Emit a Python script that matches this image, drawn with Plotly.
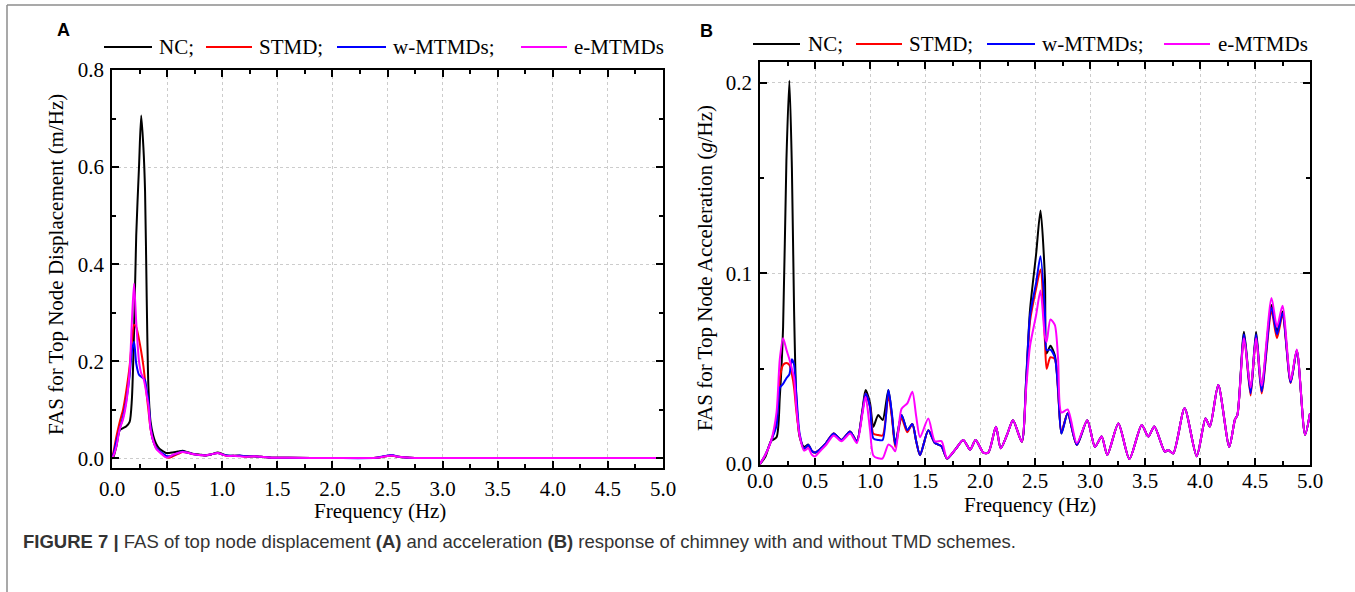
import plotly.graph_objects as go

W, H = 1355, 592

# ---------------- data: panel A (displacement FAS, m/Hz) ----------------
freq_a = [0.0, 0.01, 0.04, 0.07, 0.1, 0.13, 0.16, 0.18, 0.2, 0.22, 0.245, 0.265, 0.285, 0.3, 0.315,
          0.33, 0.35, 0.375, 0.4, 0.43, 0.46, 0.49, 0.52, 0.55, 0.6, 0.64, 0.68, 0.73, 0.79, 0.85,
          0.9, 0.96, 1.0, 1.04, 1.1, 1.16, 1.22, 1.29, 1.35, 1.46, 1.6, 2.0, 2.4, 2.48, 2.54, 2.6,
          2.7, 3.0, 4.0, 5.0]
nc_a = [0.0, 0.001, 0.025, 0.058, 0.062, 0.066, 0.075, 0.12, 0.26, 0.46, 0.6, 0.706, 0.64, 0.55, 0.33,
        0.15, 0.075, 0.046, 0.03, 0.02, 0.015, 0.011, 0.011, 0.012, 0.014, 0.0157, 0.013, 0.0093, 0.008, 0.006,
        0.008, 0.012, 0.009, 0.006, 0.005, 0.005, 0.004, 0.004, 0.003, 0.001, 0.001, 0.0005, 0.001, 0.004, 0.006, 0.003,
        0.001, 0.0005, 0.0005, 0.0005]
stmd_a = [0.005, 0.01, 0.045, 0.075, 0.1, 0.14, 0.19, 0.24, 0.275, 0.27, 0.245, 0.22, 0.19, 0.16, 0.13,
          0.1, 0.06, 0.035, 0.022, 0.014, 0.008, 0.003, 0.001, 0.004, 0.009, 0.013, 0.012, 0.009, 0.007, 0.006,
          0.008, 0.011, 0.008, 0.005, 0.005, 0.005, 0.003, 0.004, 0.003, 0.001, 0.001, 0.0005, 0.001, 0.004, 0.006, 0.003,
          0.001, 0.0005, 0.0005, 0.0005]
wmtmd_a = [0.003, 0.006, 0.035, 0.06, 0.085, 0.12, 0.17, 0.22, 0.24, 0.195, 0.172, 0.168, 0.165, 0.16, 0.14,
           0.12, 0.065, 0.035, 0.022, 0.015, 0.01, 0.005, 0.004, 0.006, 0.011, 0.014, 0.012, 0.009, 0.007, 0.006,
           0.008, 0.011, 0.008, 0.006, 0.005, 0.006, 0.004, 0.004, 0.003, 0.001, 0.001, 0.0005, 0.001, 0.005, 0.007, 0.003,
           0.001, 0.0005, 0.0005, 0.0005]
emtmd_a = [0.002, 0.004, 0.025, 0.06, 0.08, 0.115, 0.18, 0.28, 0.36, 0.28, 0.2, 0.175, 0.165, 0.15, 0.13,
           0.11, 0.06, 0.035, 0.02, 0.013, 0.007, 0.002, 0.003, 0.007, 0.011, 0.013, 0.012, 0.009, 0.007, 0.006,
           0.008, 0.011, 0.008, 0.005, 0.005, 0.004, 0.003, 0.004, 0.003, 0.001, 0.001, 0.0005, 0.001, 0.004, 0.006, 0.003,
           0.001, 0.0005, 0.0005, 0.0005]

# ---------------- data: panel B (acceleration FAS, g/Hz) ----------------
freq_b = [0.0, 0.05, 0.1, 0.15, 0.18, 0.21, 0.24, 0.267, 0.29, 0.31, 0.33, 0.36, 0.40, 0.44, 0.47,
          0.5, 0.55, 0.6, 0.67, 0.74, 0.82, 0.88, 0.93, 0.96, 1.0, 1.03, 1.075, 1.115, 1.167, 1.2,
          1.23, 1.287, 1.339, 1.385, 1.42, 1.455, 1.53, 1.59, 1.65, 1.70, 1.78, 1.848, 1.91, 1.96, 2.03,
          2.076, 2.145, 2.188, 2.25, 2.30, 2.38, 2.42, 2.455, 2.51, 2.55, 2.59, 2.606, 2.64, 2.68, 2.71,
          2.74, 2.797, 2.88, 2.975, 3.045, 3.106, 3.157, 3.258, 3.358, 3.47, 3.53, 3.585, 3.68, 3.71, 3.757,
          3.86, 3.97, 4.05, 4.09, 4.166, 4.266, 4.318, 4.34, 4.40, 4.46, 4.51, 4.56, 4.65, 4.70, 4.75,
          4.824, 4.88, 4.955, 5.0]
nc_b = [0.0, 0.004, 0.012, 0.014, 0.035, 0.072, 0.159, 0.201, 0.155, 0.08, 0.035, 0.0143, 0.009, 0.0102, 0.007,
        0.006, 0.008, 0.011, 0.016, 0.0126, 0.017, 0.0119, 0.028, 0.0388, 0.032, 0.0195, 0.0257, 0.0231, 0.0388, 0.025,
        0.0108, 0.0257, 0.0177, 0.021, 0.012, 0.0046, 0.0177, 0.011, 0.0093, 0.0029, 0.008, 0.0126, 0.0075, 0.0126, 0.006,
        0.006, 0.0195, 0.0083, 0.016, 0.023, 0.0117, 0.045, 0.081, 0.11, 0.133, 0.098, 0.058, 0.062, 0.057, 0.04,
        0.016, 0.0266, 0.010, 0.023, 0.009, 0.0144, 0.0048, 0.0213, 0.0026, 0.0205, 0.0144, 0.0197, 0.0065, 0.0073, 0.0056,
        0.0292, 0.0041, 0.0239, 0.0197, 0.0414, 0.009, 0.0234, 0.0257, 0.0694, 0.038, 0.0694, 0.0397, 0.0834, 0.0694, 0.08,
        0.0432, 0.0595, 0.0153, 0.0266]
stmd_b = [0.0, 0.005, 0.012, 0.022, 0.045, 0.052, 0.053, 0.052, 0.047, 0.04, 0.028, 0.015, 0.008, 0.0095, 0.007,
          0.006, 0.008, 0.011, 0.016, 0.0126, 0.017, 0.0119, 0.027, 0.037, 0.03, 0.016, 0.0152, 0.015, 0.036, 0.024,
          0.009, 0.024, 0.0167, 0.021, 0.012, 0.0046, 0.0177, 0.011, 0.0093, 0.0029, 0.008, 0.0126, 0.0075, 0.0126, 0.006,
          0.006, 0.0195, 0.0083, 0.016, 0.023, 0.0117, 0.043, 0.075, 0.092, 0.102, 0.065, 0.05, 0.056, 0.055, 0.038,
          0.017, 0.0266, 0.010, 0.023, 0.009, 0.0144, 0.0048, 0.0213, 0.0026, 0.0205, 0.0144, 0.0197, 0.0065, 0.0073, 0.0056,
          0.0292, 0.0041, 0.0239, 0.0197, 0.0414, 0.009, 0.0234, 0.0257, 0.067, 0.036, 0.067, 0.037, 0.080, 0.066, 0.078,
          0.0425, 0.0595, 0.0153, 0.0266]
wmtmd_b = [0.0, 0.005, 0.012, 0.02, 0.04, 0.042, 0.045, 0.047, 0.055, 0.052, 0.037, 0.016, 0.008, 0.01, 0.007,
           0.006, 0.008, 0.011, 0.016, 0.0126, 0.017, 0.0119, 0.027, 0.037, 0.03, 0.0135, 0.0126, 0.0126, 0.0388, 0.026,
           0.01, 0.0257, 0.0177, 0.021, 0.012, 0.0046, 0.0177, 0.011, 0.0093, 0.0029, 0.008, 0.0126, 0.0075, 0.0126, 0.006,
           0.006, 0.0195, 0.0083, 0.016, 0.023, 0.0117, 0.044, 0.078, 0.095, 0.109, 0.08, 0.0597, 0.06, 0.056, 0.039,
           0.016, 0.0266, 0.010, 0.023, 0.009, 0.0144, 0.0048, 0.0213, 0.0026, 0.0205, 0.0144, 0.0197, 0.0065, 0.0073, 0.0056,
           0.0292, 0.0041, 0.0239, 0.0197, 0.0414, 0.009, 0.0234, 0.0257, 0.068, 0.037, 0.068, 0.038, 0.082, 0.068, 0.079,
           0.0428, 0.0595, 0.0153, 0.0266]
emtmd_b = [0.0, 0.005, 0.012, 0.027, 0.055, 0.066, 0.06, 0.055, 0.05, 0.045, 0.03, 0.015, 0.007, 0.0083, 0.005,
           0.004, 0.007, 0.01, 0.015, 0.012, 0.016, 0.011, 0.026, 0.0353, 0.018, 0.0045, 0.003, 0.003, 0.0102, 0.009,
           0.0067, 0.029, 0.0318, 0.0379, 0.025, 0.014, 0.0239, 0.0119, 0.012, 0.003, 0.008, 0.0126, 0.0075, 0.0126, 0.006,
           0.006, 0.0195, 0.0083, 0.016, 0.023, 0.0117, 0.04, 0.062, 0.078, 0.091, 0.067, 0.064, 0.0758, 0.073, 0.055,
           0.027, 0.0286, 0.011, 0.023, 0.009, 0.0144, 0.0048, 0.0213, 0.0026, 0.0205, 0.0144, 0.0197, 0.0065, 0.0073, 0.0056,
           0.0292, 0.0041, 0.0239, 0.0197, 0.0414, 0.009, 0.0234, 0.0257, 0.066, 0.04, 0.066, 0.041, 0.087, 0.072, 0.083,
           0.044, 0.06, 0.0153, 0.0266]

series_names = ["NC;", "STMD;", "w-MTMDs;", "e-MTMDs"]
series_colors = ["#000000", "#ff0000", "#0000ff", "#ff00ff"]

x_tick_vals = [0.0, 0.5, 1.0, 1.5, 2.0, 2.5, 3.0, 3.5, 4.0, 4.5, 5.0]
x_tick_text = ["0.0", "0.5", "1.0", "1.5", "2.0", "2.5", "3.0", "3.5", "4.0", "4.5", "5.0"]
ya_tick_vals = [0.0, 0.2, 0.4, 0.6, 0.8]
ya_tick_text = ["0.0", "0.2", "0.4", "0.6", "0.8"]
yb_tick_vals = [0.0, 0.1, 0.2]
yb_tick_text = ["0.0", "0.1", "0.2"]

caption = ("<b>FIGURE 7 |</b> FAS of top node displacement <b>(A)</b> and acceleration <b>(B)</b> "
           "response of chimney with and without TMD schemes.")


def px(x):
    return x / W


def py(y):
    return 1 - y / H


SERIF = "Liberation Serif"
SANS = "Liberation Sans"

fig = go.Figure()

for vals, name, col in zip([nc_a, stmd_a, wmtmd_a, emtmd_a], series_names, series_colors):
    fig.add_trace(go.Scatter(x=freq_a, y=vals, name=name, mode="lines",
                             line=dict(color=col, width=2, shape="spline", smoothing=0.7),
                             xaxis="x", yaxis="y", showlegend=False))
for vals, name, col in zip([nc_b, stmd_b, wmtmd_b, emtmd_b], series_names, series_colors):
    fig.add_trace(go.Scatter(x=freq_b, y=vals, name=name, mode="lines",
                             line=dict(color=col, width=2, shape="spline", smoothing=0.7),
                             xaxis="x2", yaxis="y2", showlegend=False))

tickfont = dict(family=SERIF, size=21, color="black")
common = dict(showline=True, linecolor="black", linewidth=1.5, mirror="allticks",
              ticks="inside", ticklen=7, tickwidth=1.5, tickcolor="black",
              showgrid=True, gridcolor="#cccccc", gridwidth=1, griddash="3px,3px",
              zeroline=False, tickfont=tickfont, tickmode="array", automargin=False)

fig.update_layout(
    width=W, height=H,
    margin=dict(l=0, r=0, t=0, b=0, pad=0, autoexpand=False),
    showlegend=False,
    paper_bgcolor="white", plot_bgcolor="white",
    xaxis=dict(domain=[px(112), px(663)], range=[0, 5], anchor="y",
               tickvals=x_tick_vals, ticktext=x_tick_text,
               minor=dict(dtick=0.25, tick0=0, ticks="inside", ticklen=4, tickwidth=1.5,
                          tickcolor="black", showgrid=False),
               ticklabelstandoff=1, **common),
    yaxis=dict(domain=[py(468), py(70)], range=[-0.02, 0.8], anchor="x",
               tickvals=ya_tick_vals, ticktext=ya_tick_text,
               minor=dict(dtick=0.1, tick0=0, ticks="inside", ticklen=4, tickwidth=1.5,
                          tickcolor="black", showgrid=False),
               ticklabelstandoff=2, **common),
    xaxis2=dict(domain=[px(760), px(1310)], range=[0, 5], anchor="y2",
                tickvals=x_tick_vals, ticktext=x_tick_text,
                minor=dict(dtick=0.25, tick0=0, ticks="inside", ticklen=4, tickwidth=1.5,
                           tickcolor="black", showgrid=False),
                ticklabelstandoff=-4, **common),
    yaxis2=dict(domain=[py(465), py(62)], range=[-0.0005, 0.2108], anchor="x2",
                tickvals=yb_tick_vals, ticktext=yb_tick_text,
                minor=dict(dtick=0.05, tick0=0, ticks="inside", ticklen=4, tickwidth=1.5,
                           tickcolor="black", showgrid=False),
                ticklabelstandoff=2, **common),
)

annotations = []
shapes = []


def label(x, y, text, font, xanchor="center", textangle=0):
    return dict(x=px(x), y=py(y), xref="paper", yref="paper", showarrow=False,
                xanchor=xanchor, yanchor="middle", textangle=textangle, text=text, font=font)


serif21 = dict(family=SERIF, size=21, color="black")
# axis titles
annotations.append(label(380, 511, "Frequency (Hz)", serif21))
annotations.append(label(1030, 505, "Frequency (Hz)", serif21))
annotations.append(label(56, 265, "FAS for Top Node Displacement (m/Hz)", serif21, textangle=-90))
annotations.append(label(705, 268, "FAS for Top Node Acceleration (<i>g</i>/Hz)", serif21, textangle=-90))

# panel letters
annotations.append(label(63, 30, "<b>A</b>", dict(family=SANS, size=18, color="black")))
annotations.append(label(706, 31, "<b>B</b>", dict(family=SANS, size=18, color="black")))

# legends (line sample + label) for each panel
legend_font = dict(family=SERIF, size=21, color="black")
legend_a_y = 47
legend_a_lines = [(104, 152), (206, 252), (337, 386), (521, 567)]
legend_a_text_x = [157, 257, 391, 572]
legend_b_y = 44
legend_b_lines = [(753, 800), (856, 902), (987, 1035), (1164, 1210)]
legend_b_text_x = [806, 907, 1040, 1216]
for ly, lines, tx in [(legend_a_y, legend_a_lines, legend_a_text_x),
                      (legend_b_y, legend_b_lines, legend_b_text_x)]:
    for (x0, x1), t, name, col in zip(lines, tx, series_names, series_colors):
        shapes.append(dict(type="line", xref="paper", yref="paper", x0=px(x0), x1=px(x1),
                           y0=py(ly), y1=py(ly), line=dict(color=col, width=2)))
        annotations.append(label(t, ly, name, legend_font, xanchor="left"))

# caption
annotations.append(label(21, 541, caption, dict(family=SANS, size=18.5, color="#333333"), xanchor="left"))

# figure frame
shapes.append(dict(type="line", xref="paper", yref="paper", x0=px(7), x1=1, y0=py(5), y1=py(5),
                   line=dict(color="#8c8c8c", width=1.5)))
shapes.append(dict(type="line", xref="paper", yref="paper", x0=px(7), x1=px(7), y0=py(5), y1=0,
                   line=dict(color="#8c8c8c", width=1.5)))

fig.update_layout(annotations=annotations, shapes=shapes)

fig.write_html("out.html", post_script="document.body.style.margin='0';document.body.style.overflow='hidden';")
